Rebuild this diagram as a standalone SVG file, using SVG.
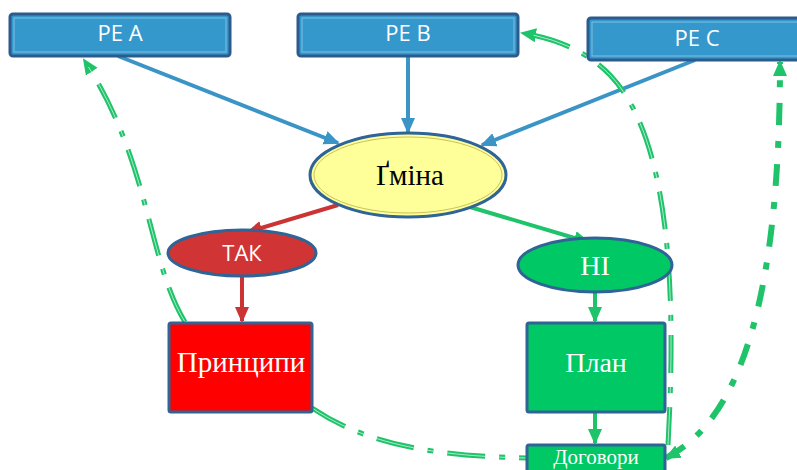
<svg xmlns="http://www.w3.org/2000/svg" width="797" height="470" viewBox="0 0 797 470">
<style>
.pe{fill:#3598cc;stroke:#2a5b8c;stroke-width:3}
.pein{fill:none;stroke:#7fc0e0;stroke-width:1}
.pet{fill:#fff;font-family:"Open Sans","Liberation Sans",sans-serif;font-size:22px;text-anchor:middle}
.ser{font-family:"Liberation Serif","DejaVu Serif",serif;text-anchor:middle;fill:#fff}
.bl{stroke:#3a95c6;stroke-width:4;fill:none}
.rd{stroke:#cc3333;stroke-width:4;fill:none}
.gr{stroke:#1ec36a;stroke-width:4;fill:none}
.dd{stroke:#1ec36a;stroke-width:5;fill:none;stroke-dasharray:38 14 6 14}
.ddw{stroke:#ffffff;stroke-width:0.8;fill:none;stroke-dasharray:38 14 6 14;opacity:.8}
.dd2{stroke:#1ec36a;stroke-width:6;fill:none;stroke-dasharray:22 16 7 16}
</style>
<defs>
<marker id="ab" markerWidth="16" markerHeight="16" refX="14" refY="8" orient="auto" markerUnits="userSpaceOnUse"><path d="M0,1 L16,8 L0,15 Z" fill="#3a95c6"/></marker>
<marker id="ar" markerWidth="16" markerHeight="16" refX="14" refY="8" orient="auto" markerUnits="userSpaceOnUse"><path d="M0,1 L16,8 L0,15 Z" fill="#cc3333"/></marker>
<marker id="ag" markerWidth="16" markerHeight="16" refX="14" refY="8" orient="auto" markerUnits="userSpaceOnUse"><path d="M0,1 L16,8 L0,15 Z" fill="#1ec36a"/></marker>
<marker id="ags" markerWidth="16" markerHeight="16" refX="2" refY="8" orient="auto" markerUnits="userSpaceOnUse"><path d="M16,1 L0,8 L16,15 Z" fill="#1ec36a"/></marker>
</defs>
<g id="connectors">
<line class="bl" x1="118" y1="56" x2="338" y2="143" marker-end="url(#ab)"/>
<line class="bl" x1="408" y1="56" x2="408" y2="132" marker-end="url(#ab)"/>
<line class="bl" x1="695" y1="60" x2="482" y2="145" marker-end="url(#ab)"/>
<line class="rd" x1="338" y1="205" x2="248" y2="232" marker-end="url(#ar)"/>
<line class="gr" x1="470" y1="207" x2="588" y2="242" marker-end="url(#ag)"/>
<line class="rd" x1="242" y1="277" x2="242" y2="321" marker-end="url(#ar)"/>
<line class="gr" x1="595" y1="292" x2="595" y2="321" marker-end="url(#ag)"/>
<line class="gr" x1="595" y1="412" x2="595" y2="443" marker-end="url(#ag)"/>
<path class="dd" d="M185 322 C148 262 150 160 84 60" marker-end="url(#ag)"/>
<path class="ddw" d="M185 322 C148 262 150 160 84 60"/>
<path class="dd" d="M312 408 C360 440 420 456 527 458"/>
<path class="ddw" d="M312 408 C360 440 420 456 527 458"/>
<path class="dd" d="M668 445 C676 300 672 140 610 75 Q578 42 522 33" marker-end="url(#ag)"/>
<path class="ddw" d="M668 445 C676 300 672 140 610 75 Q578 42 522 33"/>
<path class="dd2" d="M666 458 C740 420 780 300 780 62" marker-start="url(#ags)" marker-end="url(#ag)"/>
</g>
<g id="peA"><rect class="pe" x="10" y="14" width="220" height="42" rx="3"/><rect class="pein" x="14" y="18" width="212" height="34"/><text class="pet" x="120" y="41">PE  A</text></g>
<g id="peB"><rect class="pe" x="298" y="14" width="220" height="42" rx="3"/><rect class="pein" x="302" y="18" width="212" height="34"/><text class="pet" x="408" y="41">PE  B</text></g>
<g id="peC"><rect class="pe" x="588" y="18" width="214" height="42" rx="3"/><rect class="pein" x="592" y="22" width="210" height="34"/><text class="pet" x="697" y="46">PE  C</text></g>
<g id="gmina"><ellipse cx="408" cy="175" rx="98" ry="42" fill="#ffff99" stroke="#2f6496" stroke-width="3"/><ellipse cx="408" cy="175" rx="94" ry="38" fill="none" stroke="#c8c060" stroke-width="1"/><text x="410" y="185" font-family="Liberation Serif,DejaVu Serif,serif" font-size="29" text-anchor="middle" fill="#000">Ґміна</text></g>
<g id="tak"><ellipse cx="242" cy="253" rx="74" ry="23" fill="#d03434" stroke="#2f6496" stroke-width="3"/><text class="pet" x="242" y="261">ТАК</text></g>
<g id="ni"><ellipse cx="595" cy="265" rx="77" ry="27" fill="#00c864" stroke="#2f6496" stroke-width="3"/><text class="ser" x="595" y="275" font-size="28">НІ</text></g>
<g id="pryntsypy"><rect x="169" y="323" width="143" height="89" rx="2" fill="#ff0000" stroke="#2f6496" stroke-width="3"/><text class="ser" x="241" y="372" font-size="29">Принципи</text></g>
<g id="plan"><rect x="527" y="323" width="138" height="89" rx="2" fill="#00c864" stroke="#2f6496" stroke-width="3"/><text class="ser" x="596" y="372" font-size="28">План</text></g>
<g id="dogovory"><rect x="527" y="445" width="138" height="40" rx="2" fill="#00c864" stroke="#2f6496" stroke-width="3"/><text class="ser" x="596" y="464" font-size="21">Договори</text></g>
</svg>
